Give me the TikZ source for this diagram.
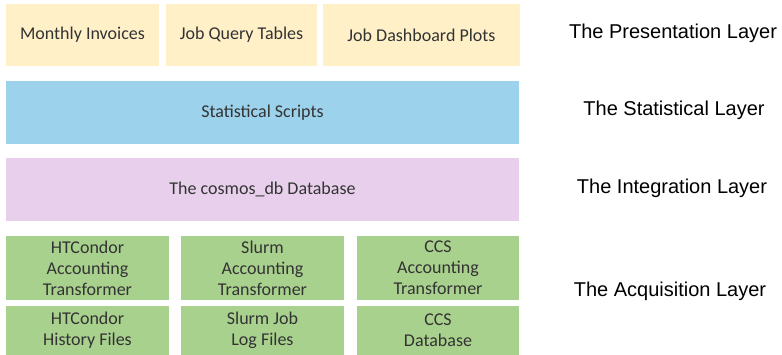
\documentclass[tikz,border=0pt]{standalone}
\usepackage{fontspec}
\setmainfont{Liberation Sans}
\newfontfamily\boxfont{Carlito}

\definecolor{presfill}{HTML}{FFF0C8}
\definecolor{statfill}{HTML}{9CD2EC}
\definecolor{integfill}{HTML}{E8D0EC}
\definecolor{acqfill}{HTML}{A9D18E}

\begin{document}
\begin{tikzpicture}
  [x=1pt,y=-1pt,
   every node/.style={rectangle,inner sep=0pt,align=center},
   layerbox/.style={font=\boxfont\fontsize{18}{21}\selectfont,text=black!80},
   layername/.style={font=\fontsize{20}{24}\selectfont}]
  \useasboundingbox (0,0) rectangle (782,355);

  % presentation layer
  \node[layerbox,fill=presfill,minimum width=153,minimum height=62] (invoices) at (82.5,35) {Monthly Invoices};
  \node[layerbox,fill=presfill,minimum width=151,minimum height=62] (tables) at (241.5,35) {Job Query Tables};
  \node[layerbox,fill=presfill,minimum width=197,minimum height=62] (plots) at (421.5,35) {Job Dashboard Plots};

  % statistical and integration layers
  \node[layerbox,fill=statfill,minimum width=513,minimum height=63] (scripts) at (262.5,112.5) {Statistical Scripts};
  \node[layerbox,fill=integfill,minimum width=513,minimum height=63] (cosmosdb) at (262.5,189.5) {The cosmos\_db Database};

  % acquisition layer
  \node[layerbox,fill=acqfill,minimum width=163,minimum height=64] (htctrans) at (87.5,268) {HTCondor\\Accounting\\Transformer};
  \node[layerbox,fill=acqfill,minimum width=163,minimum height=64] (slurmtrans) at (262.5,268) {Slurm\\Accounting\\Transformer};
  \node[layerbox,fill=acqfill,minimum width=162,minimum height=64] (ccstrans) at (438,268) {CCS\\Accounting\\Transformer};
  \node[layerbox,fill=acqfill,minimum width=163,minimum height=49] (htcfiles) at (87.5,330.5) {HTCondor\\History Files};
  \node[layerbox,fill=acqfill,minimum width=163,minimum height=49] (slurmfiles) at (262.5,330.5) {Slurm Job\\Log Files};
  \node[layerbox,fill=acqfill,minimum width=162,minimum height=49] (ccsdb) at (438,330.5) {CCS\\Database};

  % layer names
  \node[layername] (presentation) at (673,33) {The Presentation Layer};
  \node[layername] (statistical) at (674,110) {The Statistical Layer};
  \node[layername] (integration) at (672,188) {The Integration Layer};
  \node[layername] (acquisition) at (670,291) {The Acquisition Layer};
\end{tikzpicture}
\end{document}
